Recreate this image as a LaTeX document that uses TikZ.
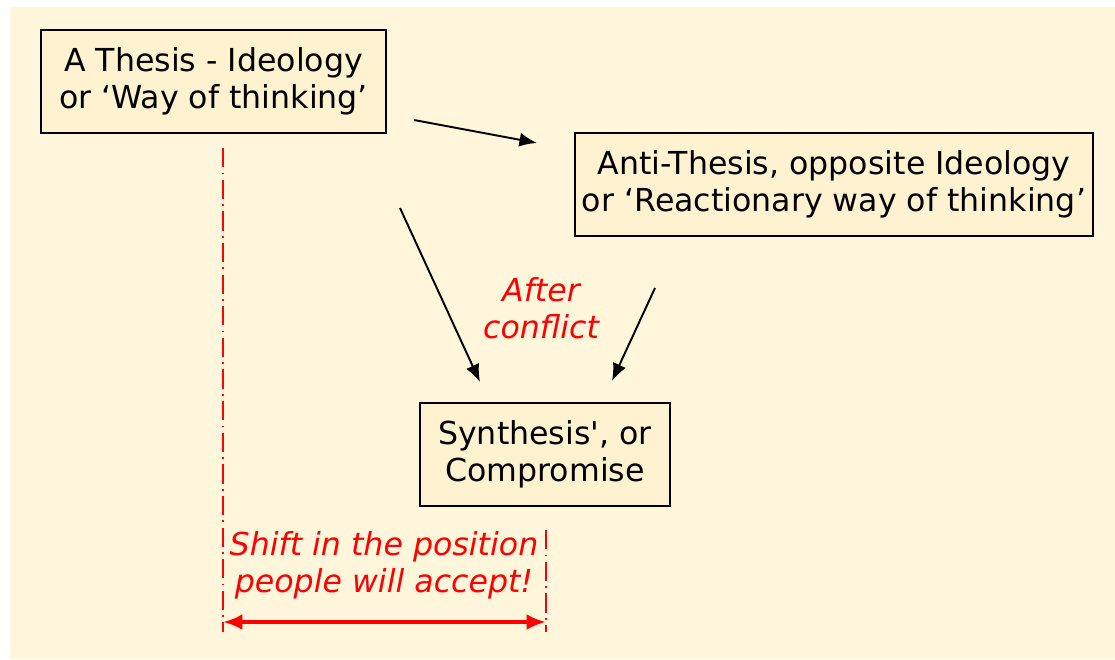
\documentclass[tikz,border=0pt]{standalone}
\usepackage{fontspec}
\setmainfont{DejaVu Sans}[Ligatures=TeXOff]
\usetikzlibrary{arrows.meta}
\definecolor{paper}{RGB}{255,246,220}
\definecolor{boxfill}{RGB}{255,242,208}
\definecolor{shiftred}{RGB}{255,0,0}
\tikzset{
    idea/.style = {
        draw=black,
        line width=1.1pt,
        fill=boxfill,
        align=center,
        minimum height=2.06cm,
        font=\fontsize{18}{21}\selectfont
    },
    push/.style = {
        -{Latex[length=10pt,width=8pt]},
        line width=1.1pt,
        black
    },
    note/.style = {
        align=center,
        text=shiftred,
        font=\fontsize{18}{21}\selectfont\itshape
    },
    limit/.style = {
        shiftred,
        line width=0.8pt,
        dash pattern=on 11pt off 3pt on 1pt off 3pt
    },
    span/.style = {
        {Latex[length=11pt,width=9pt]}-{Latex[length=11pt,width=9pt]},
        line width=2.2pt,
        shiftred
    }
}

\begin{document}
\begin{tikzpicture}[x=0.02cm,y=-0.02cm]
    % Page and background
    \useasboundingbox (0,0) rectangle (1115,659);
    \fill[paper] (10,7) rectangle (1115,659);

    % Boxes
    \node[idea, minimum width=6.9cm] (thesis) at (213.5,81.5)
        {A Thesis - Ideology\\or ‘Way of thinking’};
    \node[idea, minimum width=10.36cm] (anti) at (834,184.5)
        {Anti-Thesis, opposite Ideology\\or ‘Reactionary way of thinking’};
    \node[idea, minimum width=5cm] (synth) at (545,454.5)
        {Synthesis', or\\Compromise};

    % Arrows
    \coordinate (t2a) at (414,120);
    \coordinate (a2t) at (537,143);
    \coordinate (t2s) at (400,208);
    \coordinate (s2t) at (480,382);
    \coordinate (a2s) at (655,288);
    \coordinate (s2a) at (612,381);
    \draw[push] (t2a) -- (a2t);
    \draw[push] (t2s) -- (s2t);
    \draw[push] (a2s) -- (s2a);

    \node[note] (conflict) at (541,308) {After\\conflict};

    % Shift
    \coordinate (oldtop) at (223,148);
    \coordinate (oldbot) at (223,632);
    \coordinate (newtop) at (546,530);
    \coordinate (newbot) at (546,632);
    \draw[limit] (oldtop) -- (oldbot);
    \draw[limit] (newtop) -- (newbot);
    \node[note] (shift) at (384,565) {Shift in the position\\people will accept!};
    \coordinate (spanl) at (223,622);
    \coordinate (spanr) at (546,622);
    \draw[span] (spanl) -- (spanr);
\end{tikzpicture}
\end{document}
